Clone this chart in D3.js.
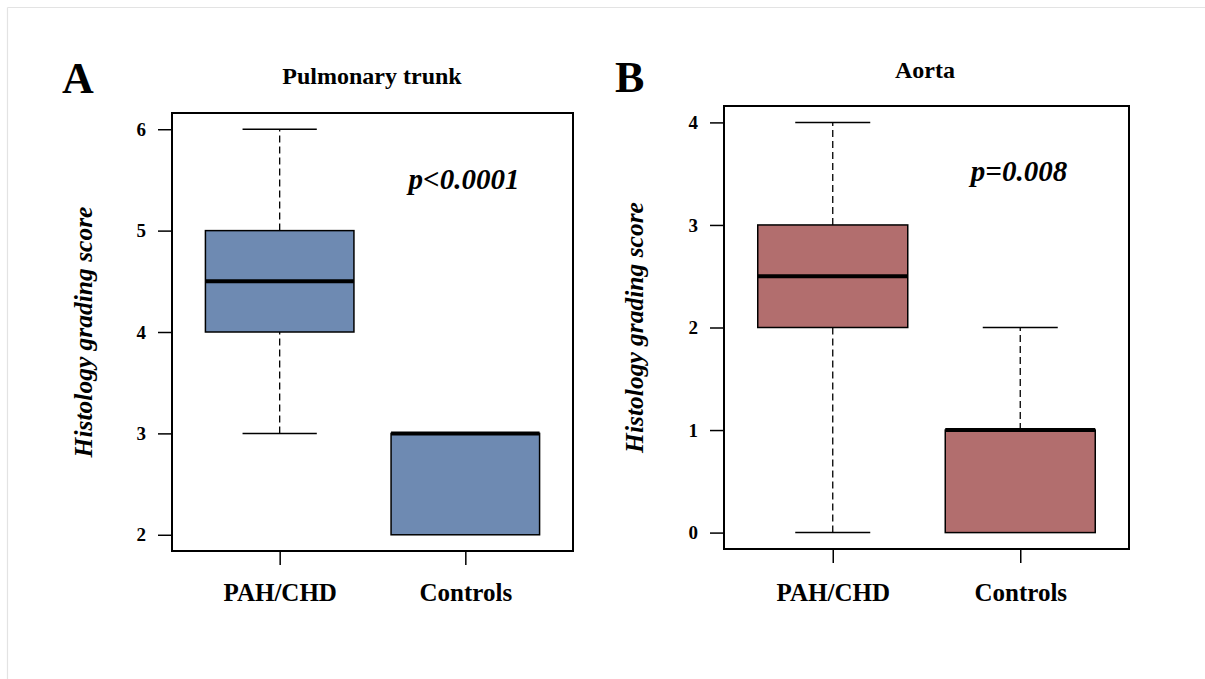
<!DOCTYPE html>
<html><head><meta charset="utf-8">
<script src="https://cdn.jsdelivr.net/npm/d3@7"></script>
<style>body{margin:0;background:#fff}svg{display:block}text{font-family:"Liberation Serif","Times New Roman",serif;}</style>
</head><body><svg id="c" width="1205" height="679"></svg>
<script>
const categories = ["PAH/CHD", "Controls"];
// [min, q1, median, q3, max]
const pulmonaryStats = [[3, 4, 4.5, 5, 6], [2, 2, 3, 3, 3]];
const aortaStats = [[0, 2, 2.5, 3, 4], [0, 0, 1, 1, 2]];
const pulmonaryTicks = [2, 3, 4, 5, 6];
const aortaTicks = [0, 1, 2, 3, 4];
const panelLetters = ["A", "B"];
const panelTitles = ["Pulmonary trunk", "Aorta"];
const pValues = ["p<0.0001", "p=0.008"];
const yTitle = "Histology grading score";

const svg = d3.select("#c");
svg.append("line").attr("x1",7.5).attr("x2",1205).attr("y1",7.5).attr("y2",7.5).attr("stroke","#e3e3e3").attr("stroke-width",1.2);
svg.append("line").attr("x1",7.5).attr("x2",7.5).attr("y1",7.5).attr("y2",679).attr("stroke","#e3e3e3").attr("stroke-width",1.2);

const panels = [
  {stats: pulmonaryStats, ticks: pulmonaryTicks, fill: "#6e8ab2", x0: 172, x1: 573, y0: 113, y1: 551,
   letter: panelLetters[0], title: panelTitles[0], p: pValues[0],
   letterX: 62, letterY: 93, titleX: 372, titleY: 84, pX: 464, pY: 189, yTitleX: 92, xLabY: 601},
  {stats: aortaStats, ticks: aortaTicks, fill: "#b26e6e", x0: 724, x1: 1129, y0: 106, y1: 549,
   letter: panelLetters[1], title: panelTitles[1], p: pValues[1],
   letterX: 615, letterY: 92, titleX: 925, titleY: 78, pX: 1019, pY: 181, yTitleX: 643, xLabY: 601}
];

panels.forEach(P => {
  const lo = d3.min(P.ticks), hi = d3.max(P.ticks);
  const pad = (hi - lo) * 0.04;
  const y = d3.scaleLinear().domain([lo - pad, hi + pad]).range([P.y1, P.y0]);
  const x = d3.scaleLinear().domain([0.42, 2.58]).range([P.x0, P.x1]);
  const g = svg.append("g");
  const bw = 0.4, cw = 0.2;

  P.stats.forEach((s, i) => {
    const cx = i + 1;
    const [mn, q1, md, q3, mx] = s;
    [[q3, mx], [mn, q1]].forEach(([a, b]) => {
      if (a !== b) g.append("line").attr("x1", x(cx)).attr("x2", x(cx)).attr("y1", y(a)).attr("y2", y(b))
        .attr("stroke", "#000").attr("stroke-width", 1.3).attr("stroke-dasharray", "7,4");
    });
    [mn, mx].forEach(v => {
      if ((v === mn && mn !== q1) || (v === mx && mx !== q3))
        g.append("line").attr("x1", x(cx - cw)).attr("x2", x(cx + cw)).attr("y1", y(v)).attr("y2", y(v))
          .attr("stroke", "#000").attr("stroke-width", 1.5);
    });
    g.append("rect").attr("x", x(cx - bw)).attr("width", x(cx + bw) - x(cx - bw))
      .attr("y", y(q3)).attr("height", y(q1) - y(q3))
      .attr("fill", P.fill).attr("stroke", "#000").attr("stroke-width", 1.5);
    g.append("line").attr("x1", x(cx - bw)).attr("x2", x(cx + bw)).attr("y1", y(md)).attr("y2", y(md))
      .attr("stroke", "#000").attr("stroke-width", 4);
  });

  g.append("rect").attr("x", P.x0).attr("y", P.y0).attr("width", P.x1 - P.x0).attr("height", P.y1 - P.y0)
    .attr("fill", "none").attr("stroke", "#000").attr("stroke-width", 2);

  const ya = d3.axisLeft(y).tickValues(P.ticks).tickSize(14).tickPadding(12).tickFormat(d3.format("d"));
  const yg = g.append("g").attr("transform", `translate(${P.x0},0)`).call(ya);
  yg.select(".domain").remove();
  yg.selectAll(".tick line").attr("stroke", "#000").attr("stroke-width", 1.5);
  yg.selectAll(".tick text").attr("font-weight", "bold").attr("font-size", 19).attr("fill", "#000");

  const xa = d3.axisBottom(x).tickValues([1, 2]).tickSize(14).tickPadding(0).tickFormat((d) => categories[d - 1]);
  const xg = g.append("g").attr("transform", `translate(0,${P.y1})`).call(xa);
  xg.select(".domain").remove();
  xg.selectAll(".tick line").attr("stroke", "#000").attr("stroke-width", 1.5);
  xg.selectAll(".tick text").attr("font-weight", "bold").attr("font-size", 25).attr("fill", "#000")
    .attr("dy", null).attr("y", P.xLabY - P.y1);

  g.append("text").attr("x", P.letterX).attr("y", P.letterY).attr("font-size", 44).attr("font-weight", "bold").text(P.letter);
  g.append("text").attr("x", P.titleX).attr("y", P.titleY).attr("text-anchor", "middle").attr("font-size", 24).attr("font-weight", "bold").text(P.title);
  g.append("text").attr("x", P.pX).attr("y", P.pY).attr("text-anchor", "middle").attr("font-size", 29).attr("font-weight", "bold").attr("font-style", "italic").text(P.p);
  g.append("text").attr("transform", `translate(${P.yTitleX},${(P.y0 + P.y1) / 2}) rotate(-90)`)
    .attr("text-anchor", "middle").attr("font-size", 25.5).attr("font-weight", "bold").attr("font-style", "italic").text(yTitle);
});
</script></body></html>
